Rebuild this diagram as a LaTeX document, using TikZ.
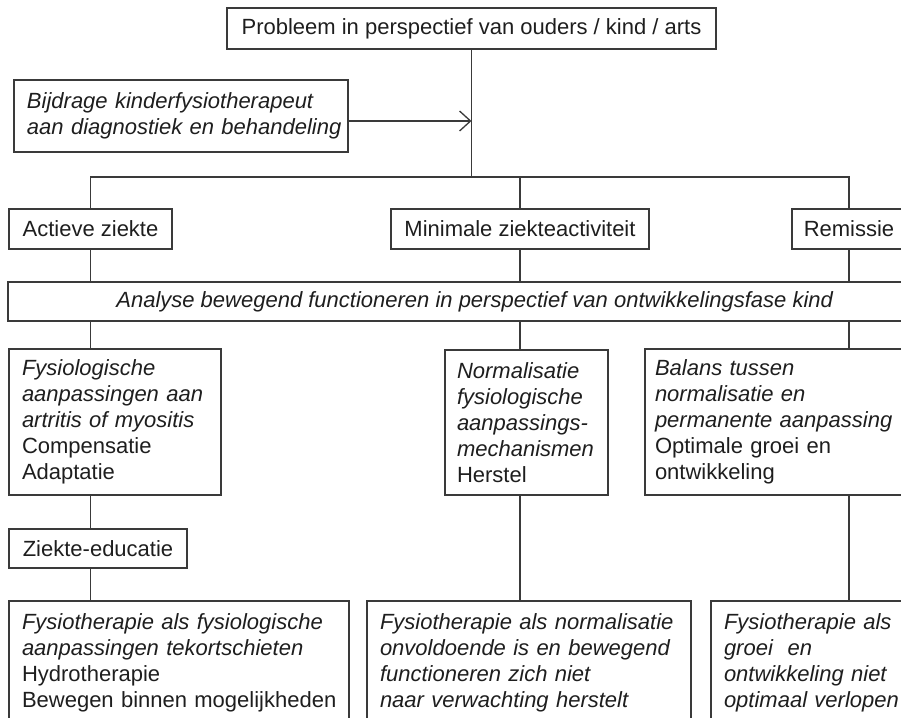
\documentclass[tikz,border=0pt]{standalone}
\usepackage{fontspec}
\setmainfont{Liberation Sans}
\usetikzlibrary{arrows.meta}
\definecolor{linec}{HTML}{3A3A3A}
\definecolor{txtc}{HTML}{1E1E1E}
\hyphenpenalty=10000
\exhyphenpenalty=10000
\newcommand{\itl}[1]{\mbox{\itshape #1}}
\newcommand{\upl}[1]{\mbox{#1}}
\begin{document}
\begin{tikzpicture}[x=1pt,y=-1pt,
  box/.style={draw=linec, line width=1.3pt, inner sep=0pt, outer sep=0pt, text=txtc,
    font=\fontsize{22}{26}\selectfont},
  lbox/.style={box, align=left, inner xsep=13pt, inner ysep=0pt},
  conn/.style={draw=linec, line width=1.3pt}]
\useasboundingbox (0,0) rectangle (901,717);
\clip (0,0) rectangle (901,717);
% top
\node[box, minimum width=489pt, minimum height=41pt] (top) at (471.5,28.5)
  {Probleem in perspectief van ouders / kind / arts};
\node[lbox, text width=308pt, minimum height=72pt] (bij) at (181,116)
  {\itl{Bijdrage kinderfysiotherapeut}\\\itl{aan diagnostiek en behandeling}};
% level 2
\node[box, minimum width=163pt, minimum height=40pt] (act) at (90.5,229) {Actieve ziekte};
\node[box, minimum width=258pt, minimum height=40pt] (min) at (520,229) {Minimale ziekteactiviteit};
\node[box, minimum width=114pt, minimum height=40pt] (rem) at (849,229) {Remissie};
% analyse
\node[box, minimum width=934pt, minimum height=39pt] (ana) at (475,301.5)
  {\textit{Analyse bewegend functioneren in perspectief van ontwikkelingsfase kind}};
% level 4
\node[lbox, text width=186pt, minimum height=146pt] (fys) at (115,422)
  {\itl{Fysiologische}\\\itl{aanpassingen aan}\\\itl{artritis of myositis}\\\upl{Compensatie}\\\upl{Adaptatie}};
\node[lbox, inner xsep=12pt, text width=139pt, minimum height=145pt] (nor) at (526.5,422.5)
  {\itl{Normalisatie}\\\itl{fysiologische}\\\itl{aanpassings-}\\\itl{mechanismen}\\\upl{Herstel}};
\node[lbox, inner xsep=10pt, text width=250pt, minimum height=146pt] (bal) at (780,422)
  {\itl{Balans tussen}\\\itl{normalisatie en}\\\itl{permanente aanpassing}\\\upl{Optimale groei en}\\\upl{ontwikkeling}};
% ziekte-educatie
\node[box, minimum width=178pt, minimum height=39pt] (zie) at (98,548.5) {Ziekte-educatie};
% bottom
\node[lbox, text width=314pt, minimum height=124pt, anchor=north] (bl) at (179,601)
  {\itl{Fysiotherapie als fysiologische}\\\itl{aanpassingen tekortschieten}\\\upl{Hydrotherapie}\\\upl{Bewegen binnen mogelijkheden}};
\node[lbox, text width=298pt, minimum height=124pt, anchor=north] (bm) at (529,601)
  {\itl{Fysiotherapie als normalisatie}\\\itl{onvoldoende is en bewegend}\\\itl{functioneren zich niet}\\\itl{naar verwachting herstelt}};
\node[lbox, text width=223pt, minimum height=124pt, anchor=north] (br) at (835.5,601)
  {\itl{Fysiotherapie als}\\\itl{groei\ \ en}\\\itl{ontwikkeling niet}\\\itl{optimaal verlopen}};
% connectors
\coordinate (bus) at (top.south |- 0,177);
\draw[conn] (top.south) -- (bus);
\draw[conn] (act.north) |- (bus);
\draw[conn] (rem.north) |- (bus);
\draw[conn] (min.north) -- (min.north |- bus);
\draw[conn, -{Straight Barb[length=11pt,width=20pt]}] ([yshift=-5pt]bij.east) -- ([yshift=-5pt]bij.east -| top.south);
\draw[conn] (act.south) -- (act.south |- ana.north);
\draw[conn] (min.south) -- (min.south |- ana.north);
\draw[conn] (rem.south) -- (rem.south |- ana.north);
\draw[conn] (ana.south -| act.south) -- (fys.north -| act.south);
\draw[conn] (ana.south -| min.south) -- (nor.north -| min.south);
\draw[conn] (ana.south -| rem.south) -- (bal.north -| rem.south);
\draw[conn] (fys.south -| act.south) -- (zie.north -| act.south);
\draw[conn] (zie.south -| act.south) -- (bl.north -| act.south);
\draw[conn] (nor.south -| min.south) -- (bm.north -| min.south);
\draw[conn] (bal.south -| rem.south) -- (br.north -| rem.south);
\end{tikzpicture}
\end{document}
